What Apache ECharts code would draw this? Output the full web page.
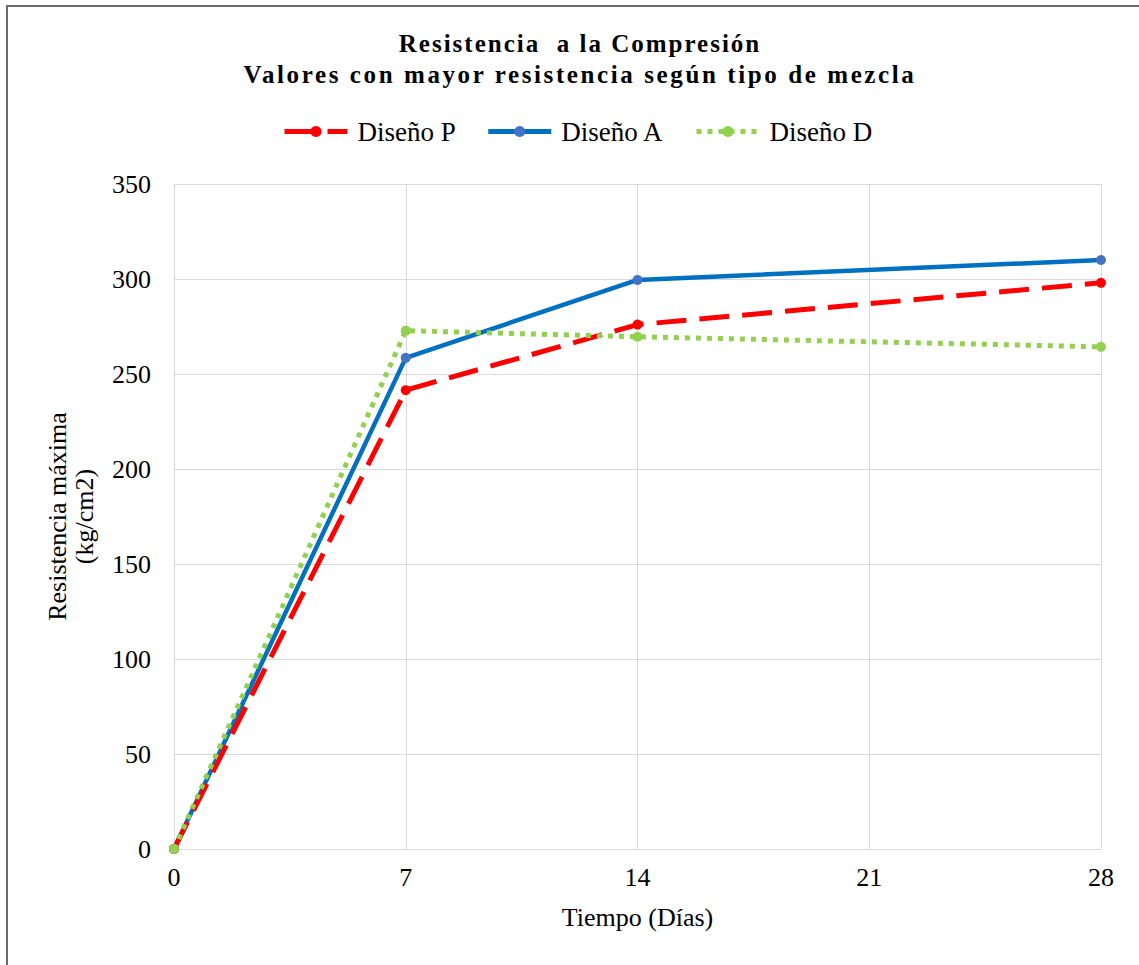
<!DOCTYPE html>
<html>
<head>
<meta charset="utf-8">
<script src="https://cdn.jsdelivr.net/npm/echarts@6/dist/echarts.min.js"></script>
<style>
  html, body { margin: 0; padding: 0; background: #fff; }
  #chart { width: 1139px; height: 965px; }
</style>
</head>
<body>
<div id="chart"></div>
<script>
// Curing age in days and compressive strength (kg/cm2) for each mix design
const dias = [0, 7, 14, 28];
const disenoP = [0, 241.5, 276, 298];
const disenoA = [0, 258.5, 299.5, 310];
const disenoD = [0, 272.8, 269.6, 264.3];
const yTicks = [0, 50, 100, 150, 200, 250, 300, 350];
const xTicks = [0, 7, 14, 21, 28];
const tituloL1 = 'Resistencia  a la Compresión';
const tituloL2 = 'Valores con mayor resistencia según tipo de mezcla';

const serif = '"Liberation Serif", "Times New Roman", serif';
const pair = (vals) => dias.map((d, i) => [d, vals[i]]);

const chart = echarts.init(document.getElementById('chart'), null, { renderer: 'svg' });

chart.setOption({
  backgroundColor: '#ffffff',
  animation: false,
  graphic: [{
    type: 'rect',
    shape: { x: 7, y: 6, width: 1150, height: 980 },
    style: { fill: 'none', stroke: '#6b6b6b', lineWidth: 2 },
    silent: true
  }],
  title: {
    text: tituloL1 + '\n' + tituloL2,
    left: 575,
    top: 23,
    textAlign: 'center',
    textStyle: {
      fontFamily: serif,
      fontWeight: 'bold',
      fontSize: 25,
      lineHeight: 31,
      color: '#000'
    }
  },
  legend: {
    top: 113,
    left: 277,
    itemWidth: 63,
    itemHeight: 14,
    itemGap: 30,
    lineStyle: { width: 5 },
    textStyle: { fontFamily: serif, fontSize: 27, color: '#000', padding: [0, 0, 0, 5] },
    data: ['Diseño P', 'Diseño A', 'Diseño D']
  },
  grid: { left: 174, right: 38, top: 184, bottom: 116, containLabel: false },
  xAxis: {
    type: 'value',
    min: xTicks[0],
    max: xTicks[xTicks.length - 1],
    interval: 7,
    name: 'Tiempo (Días)',
    nameLocation: 'middle',
    nameGap: 55,
    nameTextStyle: { fontFamily: serif, fontSize: 26, color: '#000', verticalAlign: 'top' },
    axisLine: { show: true, lineStyle: { color: '#d9d9d9', width: 1 } },
    axisTick: { show: false },
    axisLabel: { fontFamily: serif, fontSize: 26, color: '#000', margin: 15 },
    splitLine: { show: true, lineStyle: { color: '#d9d9d9', width: 1 } }
  },
  yAxis: {
    type: 'value',
    min: yTicks[0],
    max: yTicks[yTicks.length - 1],
    interval: 50,
    name: 'Resistencia máxima\n(kg/cm2)',
    nameLocation: 'middle',
    nameRotate: 90,
    nameGap: 76,
    nameTextStyle: { fontFamily: serif, fontSize: 26, color: '#000', lineHeight: 27 },
    axisLine: { show: true, lineStyle: { color: '#d9d9d9', width: 1 } },
    axisTick: { show: false },
    axisLabel: { fontFamily: serif, fontSize: 26, color: '#000', margin: 23 },
    splitLine: { show: true, lineStyle: { color: '#d9d9d9', width: 1 } }
  },
  series: [
    {
      name: 'Diseño P',
      type: 'line',
      data: pair(disenoP),
      symbol: 'circle',
      symbolSize: 10,
      color: '#ff0000',
      itemStyle: { color: '#ff0000' },
      lineStyle: { color: '#ff0000', width: 5, type: [30, 13], cap: 'butt' },
      z: 3
    },
    {
      name: 'Diseño A',
      type: 'line',
      data: pair(disenoA),
      symbol: 'circle',
      symbolSize: 10,
      color: '#4472c4',
      itemStyle: { color: '#4472c4' },
      lineStyle: { color: '#0070c0', width: 4.5, type: 'solid' },
      z: 2
    },
    {
      name: 'Diseño D',
      type: 'line',
      data: pair(disenoD),
      symbol: 'circle',
      symbolSize: 10,
      color: '#92d050',
      itemStyle: { color: '#92d050' },
      lineStyle: { color: '#92d050', width: 5, type: [5, 6], cap: 'butt' },
      z: 4
    }
  ]
});

// The title is set with wide character spacing
function espaciarTitulo() {
  chart.getDom().querySelectorAll('text').forEach((t) => {
    const s = t.textContent;
    if (s.indexOf('Compresión') >= 0) {
      t.style.letterSpacing = '2px';
    } else if (s.indexOf('mezcla') >= 0) {
      t.style.letterSpacing = '2.6px';
    }
  });
}
espaciarTitulo();
chart.on('finished', espaciarTitulo);
</script>
</body>
</html>
